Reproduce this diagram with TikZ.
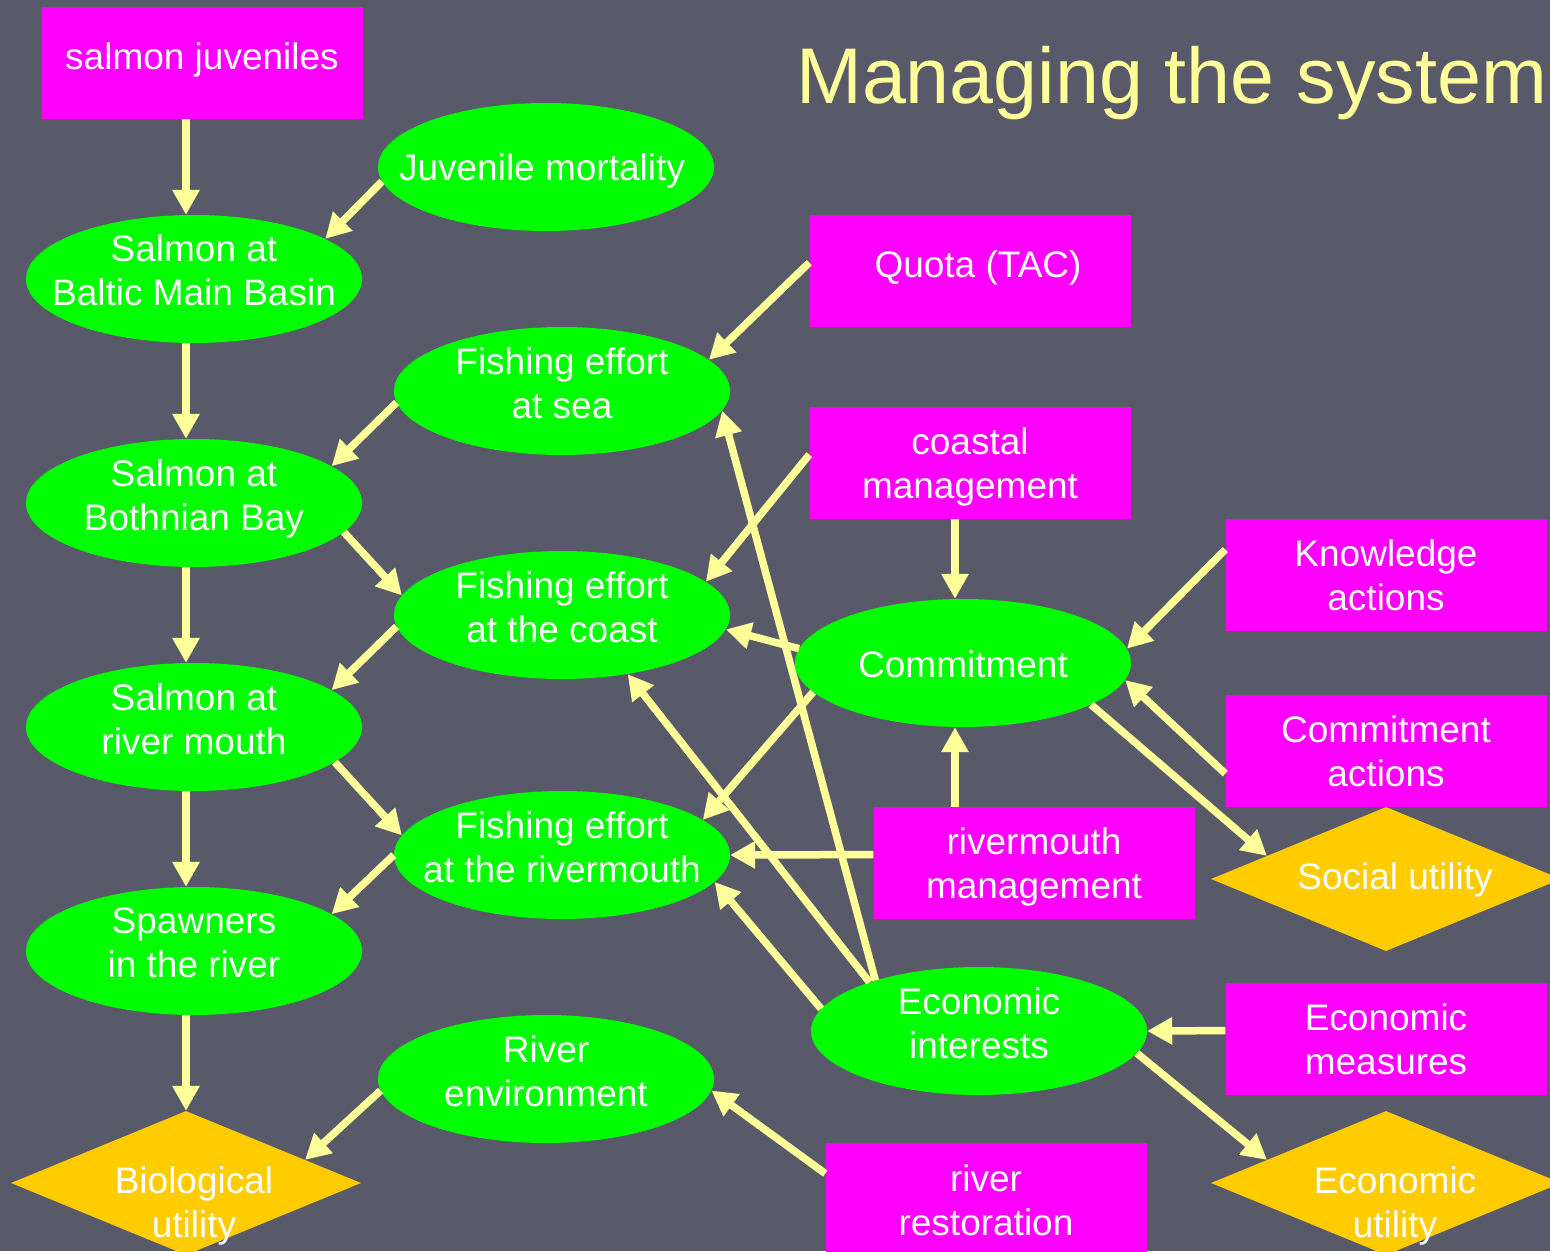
\documentclass[tikz,border=0pt]{standalone}
\usepackage{fontspec}
\setmainfont{Liberation Sans}
\usetikzlibrary{arrows.meta,shapes.geometric}
\definecolor{bgc}{RGB}{88,90,106}
\definecolor{mag}{RGB}{255,0,255}
\definecolor{grn}{RGB}{0,255,0}
\definecolor{gold}{RGB}{255,204,0}
\definecolor{lyel}{RGB}{255,255,153}
\begin{document}
\begin{tikzpicture}[x=1pt,y=-1pt,
 box/.style={rectangle,fill=mag,minimum width=321pt,minimum height=112pt,inner sep=0pt},
 ell/.style={ellipse,fill=grn,minimum width=336pt,minimum height=128pt,inner sep=0pt},
 dia/.style={diamond,fill=gold,minimum width=350pt,minimum height=144pt,inner sep=0pt},
 lbl/.style={text=white,font=\fontsize{37}{44}\selectfont,align=center,inner sep=0pt},
 conn/.style={draw=lyel,line width=7.5pt,-{Triangle[length=25pt,width=26pt]}}]
\useasboundingbox (0,0) rectangle (1550,1251);
\fill[bgc] (0,0) rectangle (1550,1251);

% title
\node[anchor=base west,text=lyel,font=\fontsize{79}{90}\selectfont,inner sep=0pt] (title) at (796,103) {Managing the system};

% rectangles
\node[box] (sj) at (202,63) {};
\node[box] (quota) at (970,271) {};
\node[box] (cm) at (970,463) {};
\node[box] (ka) at (1386,575) {};
\node[box] (ca) at (1386,751) {};
\node[box] (rmm) at (1034,863) {};
\node[box] (em) at (1386,1039) {};
\node[box] (rr) at (986,1199) {};

% ellipses
\node[ell] (jm) at (546,167) {};
\node[ell] (bmb) at (194,279) {};
\node[ell] (fes) at (562,391) {};
\node[ell] (bbay) at (194,503) {};
\node[ell] (fec) at (562,615) {};
\node[ell] (com) at (963,663) {};
\node[ell] (rm) at (194,727) {};
\node[ell] (ferm) at (562,855) {};
\node[ell] (sp) at (194,951) {};
\node[ell] (ei) at (979,1031) {};
\node[ell] (renv) at (546,1079) {};

% diamonds
\node[dia] (su) at (1386,879) {};
\node[dia] (eu) at (1386,1183) {};
\node[dia] (bu) at (186,1183) {};

% texts
\node[lbl] (sjt) at (202,60) {salmon juveniles};
\node[lbl] (quotat) at (978,268) {Quota (TAC)};
\node[lbl] (cmt) at (970,467) {coastal\\management};
\node[lbl] (kat) at (1386,575) {Knowledge\\actions};
\node[lbl] (cat) at (1386,751) {Commitment\\actions};
\node[lbl] (rmmt) at (1034,867) {rivermouth\\management};
\node[lbl] (emt) at (1386,1039) {Economic\\measures};
\node[lbl] (rrt) at (986,1200) {river\\restoration};
\node[lbl] (jmt) at (542,171) {Juvenile mortality};
\node[lbl] (bmbt) at (194,270) {Salmon at\\Baltic Main Basin};
\node[lbl] (fest) at (562,383) {Fishing effort\\at sea};
\node[lbl] (bbayt) at (194,499) {Salmon at\\Bothnian Bay};
\node[lbl] (fect) at (562,607) {Fishing effort\\at the coast};
\node[lbl] (comt) at (963,664) {Commitment};
\node[lbl] (rmt) at (194,719) {Salmon at\\river mouth};
\node[lbl] (fermt) at (562,847) {Fishing effort\\at the rivermouth};
\node[lbl] (spt) at (194,943) {Spawners\\in the river};
\node[lbl] (eit) at (979,1023) {Economic\\interests};
\node[lbl] (renvt) at (546,1071) {River\\environment};
\node[lbl] (sut) at (1395,880) {Social utility};
\node[lbl] (eut) at (1395,1206) {Economic\\utility};
\node[lbl] (but) at (194,1206) {Biological\\utility};

% connectors
\draw[conn] ([xshift=-16pt]sj.south) -- ([xshift=-8pt]bmb.north);
\draw[conn] (jm.185) -- (bmb.17);
\draw[conn] ([xshift=-8pt]bmb.south) -- ([xshift=-8pt]bbay.north);
\draw[conn] (fes.184) -- (bbay.15);
\draw[conn] (quota.177) -- (fes.12);
\draw[conn] (bbay.-11) -- (fec.173);
\draw[conn] ([xshift=-8pt]bbay.south) -- ([xshift=-8pt]rm.north);
\draw[conn] (cm.177) -- (fec.13);
\draw[conn] ([xshift=-15pt]cm.south) -- ([xshift=-8pt]com.north);
\draw[conn] (fec.184) -- (rm.15);
\draw[conn] (com.175) -- (fec.-5);
\draw[conn] (ka.171) -- (com.5);
\draw[conn] (ca.188) -- (com.-6);
\draw[conn] (com.-18) -- (su.169);
\draw[conn] (com.191) -- (ferm.14);
\draw[conn] (rm.-14) -- (ferm.173);
\draw[conn] ([xshift=-8pt]rm.south) -- ([xshift=-8pt]sp.north);
\draw[conn] (rmm.177) -- (ferm.east);
\draw[conn] ([xshift=-79pt]rmm.north) -- ([xshift=-8pt]com.south);
\draw[conn] (ferm.180) -- (sp.15);
\draw[conn] (ei.154) -- (fes.-7);
\draw[conn] (ei.156) -- (fec.-42);
\draw[conn] (ei.172) -- (ferm.-10);
\draw[conn] (em.177) -- (ei.east);
\draw[conn] (ei.-8) -- (eu.169);
\draw[conn] ([xshift=-8pt]sp.south) -- (bu.north);
\draw[conn] (renv.184) -- (bu.11);
\draw[conn] (rr.171) -- (renv.-4);
\end{tikzpicture}
\end{document}
